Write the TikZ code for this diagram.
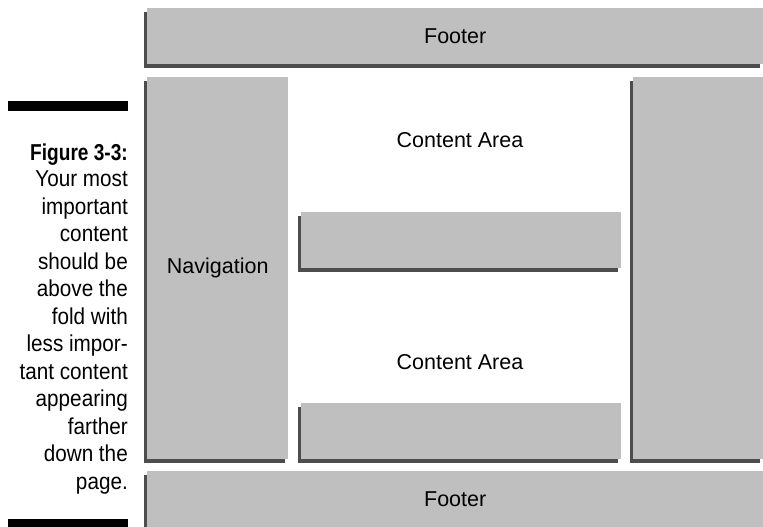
\documentclass[tikz,border=0pt]{standalone}
\usepackage{fontspec}
\setmainfont{Liberation Sans}
\newfontfamily\captionfont[FakeStretch=0.9]{Liberation Sans}
\newfontfamily\figtitlefont[FakeStretch=0.83]{Liberation Sans}
\usetikzlibrary{shadows, positioning}
\definecolor{panelgray}{HTML}{BFBFBF}
\definecolor{shadowgray}{HTML}{4D4D4D}
\tikzset{panel/.style={fill=panelgray, anchor=north west, inner sep=0pt,
  font=\fontsize{21.5}{24}\selectfont,
  drop shadow={shadow xshift=-3.5pt, shadow yshift=-3.5pt, fill=shadowgray, opacity=1}}}
\tikzset{rule/.style={fill=black, anchor=north west, inner sep=0pt, minimum width=120pt}}
\tikzset{label/.style={font=\fontsize{21.5}{24}\selectfont}}

\begin{document}
\begin{tikzpicture}[x=1pt, y=-1pt]
\useasboundingbox (0,0) rectangle (763,527);
% page layout
\node[panel, minimum width=616pt, minimum height=56pt] (topfooter) at (147,8) {Footer};
\node[panel, minimum width=141pt, minimum height=382pt] (nav) at (147,77) {Navigation};
\node[panel, minimum width=130pt, minimum height=382pt] (side) at (633,77) {};
\node[panel, minimum width=320pt, minimum height=56pt] (fold1) at (301,212) {};
\node[panel, minimum width=320pt, minimum height=56pt] (fold2) at (301,403) {};
\node[panel, minimum width=616pt, minimum height=56pt] (botfooter) at (147,471) {Footer};
\node[label] (content1) at (460,140) {Content Area};
\node[label] (content2) at (460,362) {Content Area};
% caption
\node[rule, minimum height=10pt] (toprule) at (8,101) {};
\node[anchor=base east, inner sep=0pt,
  font=\figtitlefont\bfseries\fontsize{23}{27.5}\selectfont] (figtitle) at (128,160) {Figure 3-3:};
\node[anchor=north east, align=right, inner sep=0pt,
  font=\captionfont\fontsize{23}{27.5}\selectfont] (caption) at (128,170.5)
  {Your most\\important\\content\\should be\\above the\\fold with\\less impor-\\tant content\\appearing\\farther\\down the\\page.};
\node[rule, minimum height=8pt] (botrule) at (8,519) {};
\end{tikzpicture}
\end{document}
